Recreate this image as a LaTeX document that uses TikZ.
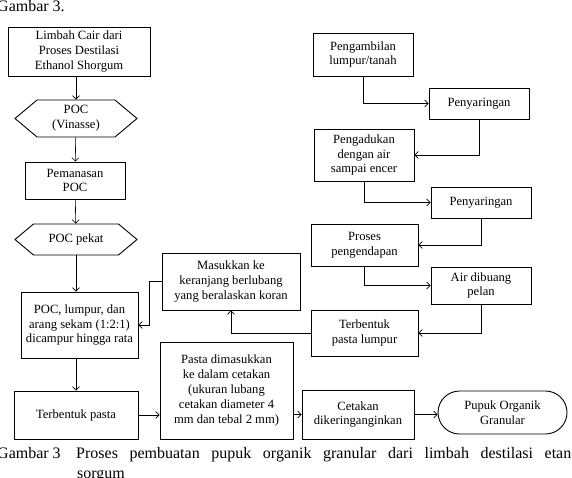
\documentclass[tikz,border=0pt]{standalone}
\usepackage{fontspec}
\setmainfont{Liberation Serif}
\usepackage{tikz}
\usetikzlibrary{shapes.symbols,shapes.misc,arrows.meta}

\tikzset{
	box/.style={draw, line width=0.9pt, align=center, inner sep=1pt, font=\fontsize{12.6}{14.8}\selectfont},
	hexbox/.style={box, signal, signal to=west and east, signal pointer angle=80},
	endbox/.style={box, rounded rectangle},
	flow/.style={-{Straight Barb[length=3.5pt,width=7pt]}, line width=0.6pt},
}

\begin{document}
\begin{tikzpicture}[x=1pt,y=-1pt]
	\useasboundingbox (0,0) rectangle (572,477);
	% left column
	\node[box, minimum width=142pt, minimum height=49pt] (limbah) at (79,51.5) {Limbah Cair dari\\Proses Destilasi\\Ethanol Shorgum};
	\node[hexbox, minimum width=122pt, minimum height=37pt] (poc) at (76,118.5) {POC\\(Vinasse)};
	\node[box, minimum width=100pt, minimum height=37pt] (panas) at (75,180.5) {Pemanasan\\POC};
	\node[hexbox, minimum width=122pt, minimum height=31pt] (pekat) at (76,239.5) {POC pekat};
	\node[box, minimum width=117pt, minimum height=66pt] (campur) at (79.5,325) {POC, lumpur, dan\\arang sekam (1:2:1)\\dicampur hingga rata};
	\node[box, minimum width=124pt, minimum height=48pt] (pasta) at (76,415) {Terbentuk pasta};
	% middle
	\node[box, minimum width=133pt, minimum height=97pt] (cetak) at (226.5,390.5) {Pasta dimasukkan\\ke dalam cetakan\\(ukuran lubang\\cetakan diameter 4\\mm dan tebal 2 mm)};
	\node[box, minimum width=138pt, minimum height=57pt] (keranjang) at (231,281.5) {Masukkan ke\\keranjang berlubang\\yang beralaskan koran};
	% right column
	\node[box, minimum width=100pt, minimum height=43pt] (ambil) at (363,54.5) {Pengambilan\\lumpur/tanah};
	\node[box, minimum width=100pt, minimum height=31pt] (saringA) at (479,103.5) {Penyaringan};
	\node[box, minimum width=100pt, minimum height=52pt] (aduk) at (364,155) {Pengadukan\\dengan air\\sampai encer};
	\node[box, minimum width=100pt, minimum height=31pt] (saringB) at (481,202.5) {Penyaringan};
	\node[box, minimum width=107pt, minimum height=42pt] (endap) at (364.5,245) {Proses\\pengendapan};
	\node[box, minimum width=100pt, minimum height=37pt] (buang) at (481,285.5) {Air dibuang\\pelan};
	\node[box, minimum width=107pt, minimum height=46pt] (lumpur) at (364.5,333) {Terbentuk\\pasta lumpur};
	\node[box, minimum width=112pt, minimum height=49pt] (kering) at (358,414.5) {Cetakan\\dikeringanginkan};
	\node[endbox, minimum width=131pt, minimum height=43pt] (pupuk) at (502.5,412.5) {Pupuk Organik\\Granular};
	% captions
	\node[anchor=base west, inner sep=0pt, font=\fontsize{16}{19}\selectfont] (judul) at (-3,11) {Gambar 3.};
	\node[anchor=base west, inner sep=0pt, font=\fontsize{16}{19}\selectfont] (capA) at (-3,458) {Gambar 3};
	\node[anchor=base west, inner sep=0pt, font=\fontsize{16}{19}\selectfont] (capB) at (76,458) {Proses\hspace{7.6pt} pembuatan\hspace{7.6pt} pupuk\hspace{7.6pt} organik\hspace{7.6pt} granular\hspace{7.6pt} dari\hspace{7.6pt} limbah\hspace{7.6pt} destilasi\hspace{7.6pt} etanol};
	\node[anchor=base west, inner sep=0pt, font=\fontsize{16}{19}\selectfont] (capC) at (77,478) {sorgum};

	\draw[flow] (poc.north |- limbah.south) -- (poc.north);
	\draw[flow] (poc) -- (panas);
	\draw[flow] (panas) -- (pekat);
	\draw[flow] (pekat.south) -- (pekat.south |- campur.north);
	\draw[flow] (campur.south -| pasta.north) -- (pasta.north);
	\draw[flow] (pasta.east) -- (pasta.east -| cetak.west);
	\draw[flow] (cetak.east |- kering.west) -- (kering.west);
	\draw[flow] (kering.east) -- (kering.east -| pupuk.west);

	\draw[flow] (ambil.south) |- (saringA.west);
	\draw[flow] (saringA.south) |- (aduk.east);
	\draw[flow] (aduk.south) |- (saringB.west);
	\draw[flow] (saringB.south) |- (endap.east);
	\draw[flow] (endap.south) |- (buang.west);
	\draw[flow] (buang.south) |- (lumpur.east);
	\draw[flow] (lumpur.west) -| (keranjang.south);
	\draw[flow] (keranjang.west) -- ++(-12,0) |- (campur.east);
\end{tikzpicture}
\end{document}
